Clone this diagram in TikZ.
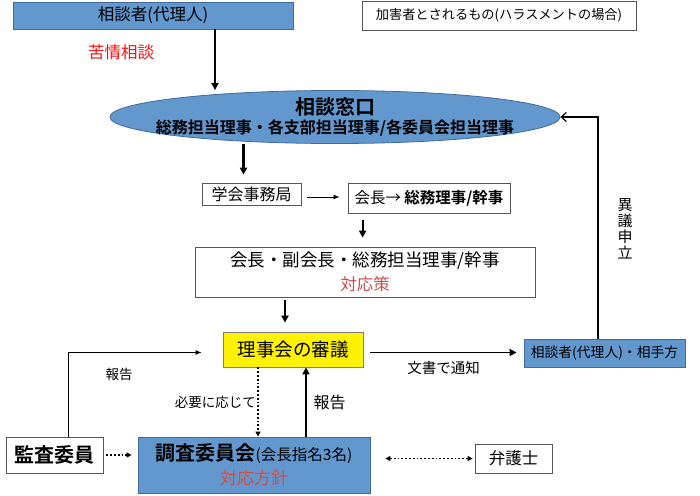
\documentclass[tikz,border=0pt]{standalone}
\usepackage{fontspec}
\setmainfont{Noto Sans CJK JP}[BoldFont={Noto Sans CJK JP Bold}]
\usepackage{tikz}
\usetikzlibrary{positioning, arrows.meta, calc, shapes.geometric}
\definecolor{boxblue}{HTML}{6398CF}
\definecolor{edgeblue}{HTML}{3F6A99}
\definecolor{hotred}{HTML}{FF1010}
\definecolor{softred}{HTML}{C8504D}
\definecolor{dim}{HTML}{555555}
\newcommand{\fsz}[2]{\fontsize{#1}{#2}\selectfont}

\begin{document}
\begin{tikzpicture}[
  x=1pt, y=-1pt,
  box/.style={draw=dim, fill=white, line width=0.8pt, inner sep=0pt,
              align=center, text=black},
  bluebox/.style={box, draw=edgeblue, fill=boxblue},
  arr/.style={-{Latex[length=6pt, width=5pt]}, line width=0.9pt},
  arrThick/.style={-{Triangle[length=7pt, width=7pt]}, line width=2.4pt},
  arrDot/.style={-{Triangle[length=5pt, width=5pt]}, line width=1.8pt,
                 dotted},
  arrBack/.style={-{Straight Barb[length=5pt, width=9pt]}, line width=1.2pt},
  every node/.style={align=center}
]
\useasboundingbox (0,0) rectangle (700,495);
% top row
\node[bluebox, minimum width=280, minimum height=27, font=\fsz{16.5}{18}]
  (soudansha) at (153,15.5) {相談者(代理人)};
\node[text=hotred, font=\fsz{16.5}{18}] (kujou) at (121,52) {苦情相談};
\node[box, minimum width=274, minimum height=29, font=\fsz{13.2}{15}]
  (kagaisha) at (499,15.5) {加害者とされるもの(ハラスメントの場合)};
% consultation window
\node[ellipse, draw=edgeblue, fill=boxblue, line width=0.8pt,
      minimum width=450, minimum height=53, inner xsep=-30pt, inner ysep=-8pt]
  (madoguchi) at (335,117)
  {{\fsz{20}{22}\bfseries 相談窓口}\\[2pt]
   {\fsz{16}{18}\bfseries 総務担当理事・各支部担当理事/各委員会担当理事}};
% office and president
\node[box, minimum width=99, minimum height=22, font=\fsz{16}{18}]
  (jimukyoku) at (251.5,194) {学会事務局};
\node[box, minimum width=162, minimum height=30, font=\fsz{15.5}{18}]
  (kaicho) at (429,198) {会長→ \textbf{総務理事/幹事}};
\node[box, minimum width=340, minimum height=50]
  (taiou) at (365,272)
  {{\fsz{17.5}{19}会長・副会長・総務担当理事/幹事}\\[6pt]
   {\fsz{16.5}{18}\color{softred}対応策}};
% board
\node[box, draw=gray, fill=yellow, minimum width=140, minimum height=35,
      font=\fsz{18.5}{20}]
  (rijikai) at (293,349.5) {理事会の審議};
\node[bluebox, minimum width=161, minimum height=28, font=\fsz{13.8}{15}]
  (aite) at (604.5,353) {相談者(代理人)・相手方};
% bottom row
\node[box, minimum width=97, minimum height=36, font=\fsz{20}{22}\bfseries]
  (kansa) at (54.5,455) {監査委員};
\node[bluebox, minimum width=232, minimum height=56]
  (chousa) at (254,465)
  {{\fsz{20}{22}\bfseries 調査委員会}{\fsz{15.5}{18}(会長指名3名)}\\[6pt]
   {\fsz{17}{19}\color{softred}対応方針}};
\node[box, minimum width=77, minimum height=29, font=\fsz{16.5}{18}]
  (bengoshi) at (513.5,458.5) {弁護士};
% main flow
\draw[arrThick] ([xshift=62pt]soudansha.south) -- ([xshift=62pt]soudansha.south |- madoguchi.north);
\draw[arrThick] ([xshift=-8pt]madoguchi.south -| jimukyoku.north)
  -- ([xshift=-8pt, yshift=8pt]jimukyoku.north);
\draw[arr] ([xshift=6pt, yshift=-3pt]jimukyoku.east)
  -- ([xshift=-8pt, yshift=-3pt]jimukyoku.east -| kaicho.west);
\draw[arrThick, line width=1.8pt] ([xshift=15pt, yshift=-7pt]kaicho.south west)
  -- ([xshift=15pt, yshift=9pt]kaicho.south west |- taiou.north);
\draw[arrThick, line width=1.8pt] ([xshift=-8pt, yshift=-3pt]rijikai.north |- taiou.south)
  -- ([xshift=-8pt, yshift=9pt]rijikai.north);
% notice and objection
\draw[arrThick, line width=1.6pt] ([xshift=7pt, yshift=-3pt]rijikai.east)
  -- node[below=5pt, font=\fsz{14.5}{16}] (tsuuchi) {文書で通知}
  ([xshift=-7pt, yshift=-3pt]rijikai.east -| aite.west);
\draw[arrBack] ([xshift=-6.5pt]aite.north) |- (madoguchi.east);
\node[font=\fsz{15}{16}] (igi) at (625,229) {異\\議\\申\\立};
% reports
\draw[arr] ([xshift=13.5pt]kansa.north) |- ([xshift=-21pt, yshift=-3pt]rijikai.west);
\node[font=\fsz{13.5}{15}] (houkoku1) at (119,374) {報告};
\draw[arrDot] ([xshift=-35pt]rijikai.south) -- ([xshift=-35pt]rijikai.south |- chousa.north)
  node[pos=0.5, anchor=east, xshift=2pt, font=\fsz{13.5}{15}] (hitsuyou) {必要に応じて};
\draw[arrThick] ([xshift=52pt]chousa.north) -- ([xshift=52pt]chousa.north |- rijikai.south)
  node[pos=0.5, right=3pt, font=\fsz{16}{18}] (houkoku2) {報告};
\draw[arrDot] ([xshift=3pt]kansa.east) -- ([xshift=-6pt]kansa.east -| chousa.west);
\draw[arrDot, {Triangle[length=5pt, width=5pt]}-{Triangle[length=5pt, width=5pt]}]
  ([xshift=15pt]bengoshi.west -| chousa.east) -- ([xshift=-2pt]bengoshi.west);
\end{tikzpicture}
\end{document}
